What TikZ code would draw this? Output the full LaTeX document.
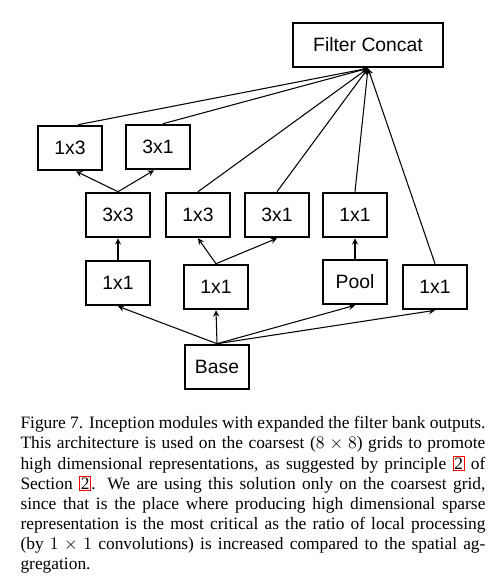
\documentclass[tikz,border=0pt]{standalone}
\usepackage{fontspec}
\setmainfont{Liberation Serif}
\newfontfamily\boxfont{Liberation Sans}
\newcommand\refbox[1]{{\fboxsep=0.4pt\fboxrule=0.6pt\color{red}\fbox{\color{black}#1}}}
\begin{document}
\begin{tikzpicture}[->, >=stealth, x=0.02cm, y=-0.02cm, line width=0.6pt]
        \tikzset{
            block/.style   = {draw, -, line width=1.2pt, rectangle, minimum width=1.27cm, minimum height=0.89cm,
                              inner sep=0pt, font=\boxfont\fontsize{11}{13}\selectfont},
            wideblock/.style = {block, minimum width=3cm},
            caption/.style = {anchor=north west, inner sep=0pt, text width=9.3cm, align=justify,
                              font=\fontsize{9.9}{11.45}\selectfont}
        }
        \useasboundingbox (0,0) rectangle (500,582);
        \node[wideblock] (FC) at (368,45) {Filter Concat};
        \node[block] (T13) at (70,148) {1x3};
        \node[block] (T31) at (158,147) {3x1};
        \node[block] (C33) at (118,215) {3x3};
        \node[block] (C13) at (198,215) {1x3};
        \node[block] (C31) at (277,215) {3x1};
        \node[block] (C11) at (355,215) {1x1};
        \node[block] (R11a) at (118,283) {1x1};
        \node[block] (R11b) at (216,287) {1x1};
        \node[block] (POOL) at (355,282) {Pool};
        \node[block] (R11c) at (435,287) {1x1};
        \node[block] (BASE) at (217,367) {Base};

        \draw (BASE.north) -- (R11a.south);
        \draw (BASE.north) -- (R11b.south);
        \draw (BASE.north) -- (POOL.south);
        \draw (BASE.north) -- (R11c.south);
        \draw (R11a) -- (C33);
        \draw (R11b.north) -- (C13.south);
        \draw (R11b.north) -- (C31.south);
        \draw (POOL) -- (C11);
        \draw (C33.north) -- ([xshift=0.12cm]T13.south);
        \draw (C33.north) -- ([xshift=-0.08cm]T31.south);
        \draw ([xshift=0.16cm]T13.north) -- (FC.south);
        \draw ([xshift=0.1cm]T31.north) -- (FC.south);
        \draw (C13.north) -- (FC.south);
        \draw (C31.north) -- (FC.south);
        \draw (C11.north) -- (FC.south);
        \draw (R11c.north) -- (FC.south);

        \node[caption] (CAP) at (20,416) {Figure 7. Inception modules with expanded the filter bank outputs.\linebreak
            This architecture is used on the coarsest ($8\times8$) grids to promote\linebreak
            high dimensional representations, as suggested by principle \refbox{2} of\linebreak
            Section \refbox{2}. We are using this solution only on the coarsest grid,\linebreak
            since that is the place where producing high dimensional sparse\linebreak
            representation is the most critical as the ratio of local processing\linebreak
            (by $1\times1$ convolutions) is increased compared to the spatial ag-\linebreak
            gregation.};
\end{tikzpicture}
\end{document}
